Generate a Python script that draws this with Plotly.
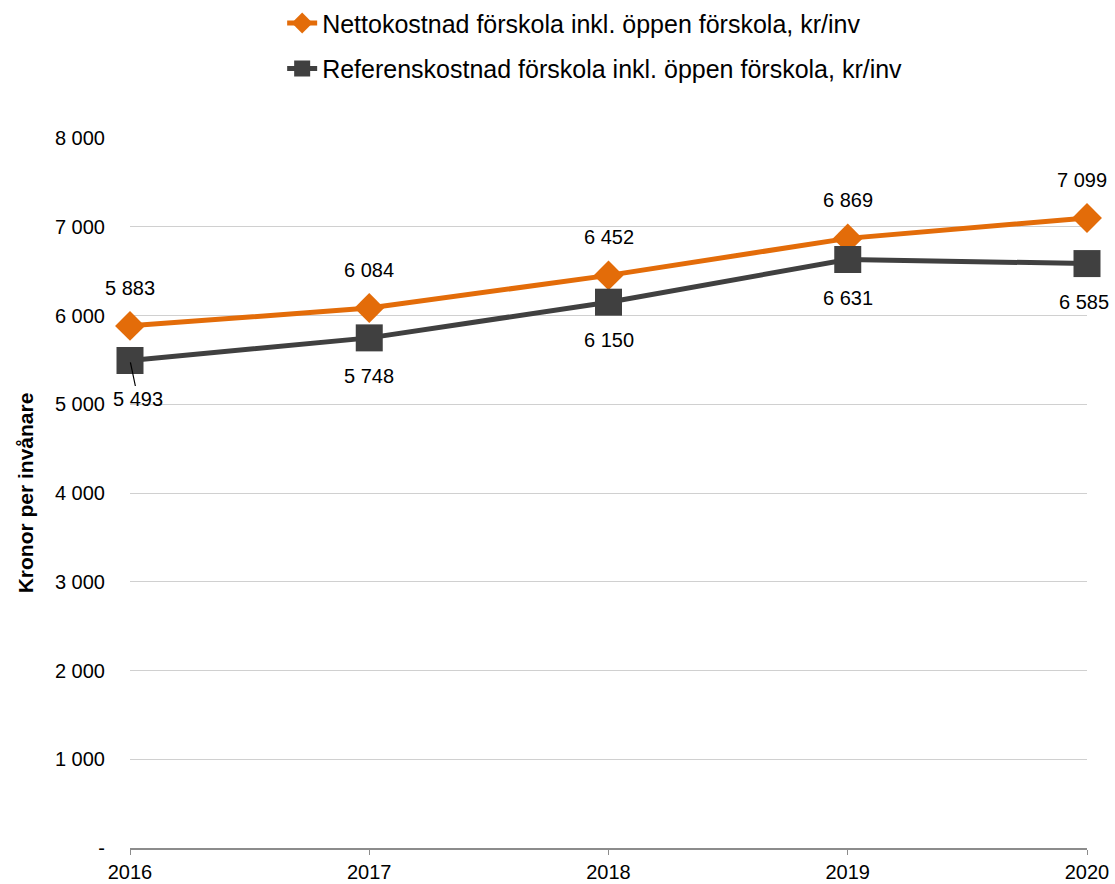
import plotly.graph_objects as go

years = [2016, 2017, 2018, 2019, 2020]
netto = [5883, 6084, 6452, 6869, 7099]
referens = [5493, 5748, 6150, 6631, 6585]
netto_name = "Nettokostnad förskola inkl. öppen förskola, kr/inv"
ref_name = "Referenskostnad förskola inkl. öppen förskola, kr/inv"
ytick_vals = [0, 1000, 2000, 3000, 4000, 5000, 6000, 7000, 8000]
ytick_text = ["-", "1 000", "2 000", "3 000", "4 000", "5 000", "6 000", "7 000", "8 000"]

ORANGE = "#E36C09"
GRAY = "#404040"
FONT = "Liberation Sans, Arial, sans-serif"


def fmt(v):
    return f"{v:,}".replace(",", " ")


fig = go.Figure()
fig.add_trace(go.Scatter(
    x=years, y=netto, name=netto_name, mode="lines+markers",
    line=dict(color=ORANGE, width=5),
    marker=dict(symbol="diamond", size=23, color=ORANGE),
    legendgroup="a", cliponaxis=False,
))
fig.add_trace(go.Scatter(
    x=years, y=referens, name=ref_name, mode="lines+markers",
    line=dict(color=GRAY, width=5),
    marker=dict(symbol="square", size=27, color=GRAY),
    legendgroup="b", cliponaxis=False,
))

LBL = dict(size=20, color="#000000", family=FONT)
annotations = []
for i, (x, v) in enumerate(zip(years, netto)):
    annotations.append(dict(
        x=x, y=v, xref="x", yref="y", text=fmt(v), showarrow=False,
        yshift=38, xshift=(-5 if i == len(years) - 1 else 0), font=LBL,
    ))
for i, (x, v) in enumerate(zip(years, referens)):
    if i == 0:
        annotations.append(dict(
            x=x, y=v, xref="x", yref="y", text=fmt(v), showarrow=True,
            ax=8, ay=38, arrowhead=0, arrowwidth=1.2, arrowcolor="#000000",
            standoff=2, font=LBL,
        ))
    else:
        annotations.append(dict(
            x=x, y=v, xref="x", yref="y", text=fmt(v), showarrow=False,
            yshift=-38, xshift=(-3 if i == len(years) - 1 else 0), font=LBL,
        ))

fig.update_layout(
    width=1115, height=884,
    paper_bgcolor="white", plot_bgcolor="white",
    margin=dict(l=130, r=28, t=138, b=36, autoexpand=False),
    font=dict(family=FONT, size=20, color="#000000"),
    showlegend=True,
    legend=dict(
        x=0.159, y=1.194, xanchor="left", yanchor="top",
        orientation="v", traceorder="grouped", tracegroupgap=10,
        font=dict(size=25, color="#000000", family=FONT),
        bgcolor="rgba(0,0,0,0)",
    ),
    annotations=annotations,
    xaxis=dict(
        range=[2016, 2020], tickvals=years, ticktext=[str(y) for y in years],
        showgrid=False, zeroline=False,
        showline=True, linecolor="#8c8c8c", linewidth=1.5,
        ticks="outside", ticklen=5, tickcolor="#8c8c8c",
        tickfont=dict(size=20, color="#000000", family=FONT),
    ),
    yaxis=dict(
        range=[0, 8000], tickvals=ytick_vals, ticktext=ytick_text,
        showgrid=True, gridcolor="#d0d0d0", gridwidth=1,
        zeroline=False, showline=False, ticks="",
        ticklabelstandoff=24,
        tickfont=dict(size=20, color="#000000", family=FONT),
        title=dict(text="<b>Kronor per invånare</b>", standoff=15,
                   font=dict(size=21, color="#000000", family=FONT)),
    ),
)

# remove the default page margin so the figure fills the 1115x884 window exactly
fig.write_html(
    "out.html",
    config={"displayModeBar": False},
    post_script="document.body.style.margin='0';document.body.style.overflow='hidden';",
)
